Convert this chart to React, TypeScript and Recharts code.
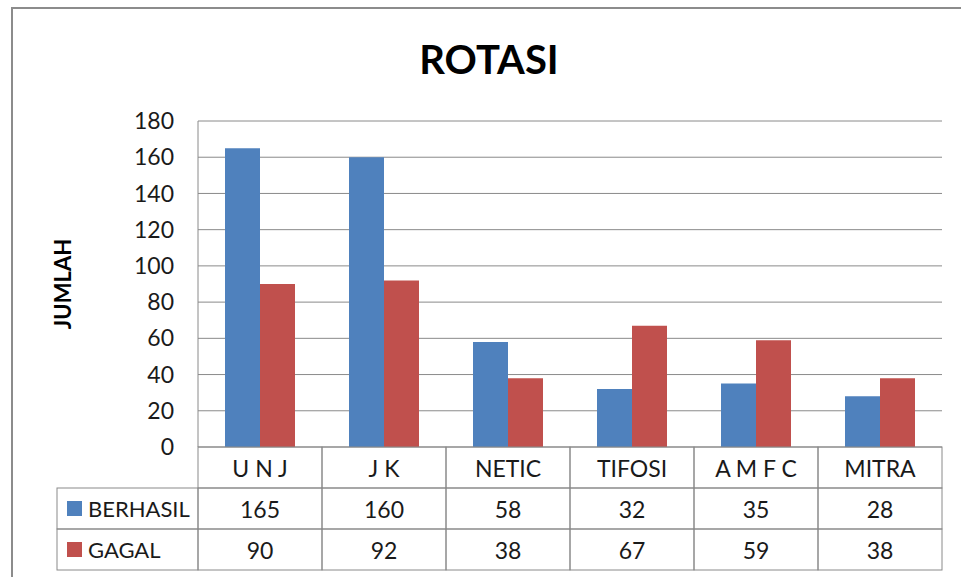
import React from 'react'
import { BarChart, Bar, XAxis, YAxis, CartesianGrid } from 'recharts'

const categories = ['U N J', 'J K', 'NETIC', 'TIFOSI', 'A M F C', 'MITRA']
const berhasil = [165, 160, 58, 32, 35, 28]
const gagal = [90, 92, 38, 67, 59, 38]
const yTicks = [0, 20, 40, 60, 80, 100, 120, 140, 160, 180]

const series = [
  { key: 'berhasil', axis: 'r1', label: 'BERHASIL', color: '#4F81BD', values: berhasil },
  { key: 'gagal', axis: 'r2', label: 'GAGAL', color: '#C0504D', values: gagal },
]

const data = categories.map((name, i) => ({
  name,
  berhasil: berhasil[i],
  gagal: gagal[i],
}))

const W = 961
const H = 577
const MARGIN = { top: 121, right: 19, left: 138, bottom: 7 }
const Y_AXIS_W = 60
const ROW_H = 41
const LABEL_W = 141
const CELL_W = (W - MARGIN.left - MARGIN.right - Y_AXIS_W) / categories.length
const GRID = '#8a8a8a'
const FONT = 'Lato, "Open Sans", sans-serif'
const TEXT = '#1a1a1a'

// one row of the data table under the plot, drawn as the ticks of an extra x axis
const TableTick = (props: any) => {
  const { x, y, payload, row } = props
  const index = props.index ?? payload.index
  const s = row === 'cat' ? null : series.find((d) => d.key === row)
  const text = s ? String(s.values[index]) : payload.value
  const left = x - CELL_W / 2
  return (
    <g>
      <rect x={left} y={y} width={CELL_W} height={ROW_H} fill="none" stroke={GRID} strokeWidth={1} />
      <text
        x={x}
        y={y + ROW_H / 2}
        textAnchor="middle"
        dominantBaseline="central"
        fontFamily={FONT}
        fontSize={23}
        fill={TEXT}
      >
        {text}
      </text>
      {s && index === 0 && (
        <g>
          <rect x={left - LABEL_W} y={y} width={LABEL_W} height={ROW_H} fill="none" stroke={GRID} strokeWidth={1} />
          <rect x={left - LABEL_W + 10} y={y + ROW_H / 2 - 7.5} width={15} height={15} fill={s.color} />
          <text
            x={left - LABEL_W + 31}
            y={y + ROW_H / 2}
            dominantBaseline="central"
            fontFamily={FONT}
            fontSize={22}
            fill={TEXT}
          >
            {s.label}
          </text>
        </g>
      )}
    </g>
  )
}

const YLabel = (props: any) => {
  const { viewBox } = props
  const cy = viewBox.y + viewBox.height / 2
  return (
    <text
      x={62}
      y={cy}
      transform={`rotate(-90, 62, ${cy})`}
      textAnchor="middle"
      dominantBaseline="central"
      fontFamily={FONT}
      fontWeight="bold"
      fontSize={22}
      fill="#000"
    >
      JUMLAH
    </text>
  )
}

export default function App() {
  return (
    <div style={{ position: 'absolute', left: 0, top: 0, width: W, height: H, background: '#fff', overflow: 'hidden' }}>
      <div
        style={{
          position: 'absolute',
          left: 11,
          top: 7,
          width: 980,
          height: 600,
          borderLeft: '2px solid #8c8c8c',
          borderTop: '2px solid #8c8c8c',
        }}
      />
      <div
        style={{
          position: 'absolute',
          left: 0,
          top: 39,
          width: 978,
          textAlign: 'center',
          fontFamily: FONT,
          fontWeight: 'bold',
          fontSize: 40,
          lineHeight: '40px',
          color: '#000',
        }}
      >
        ROTASI
      </div>
      <BarChart
        width={W}
        height={H}
        data={data}
        margin={MARGIN}
        barCategoryGap={27}
        barGap={0}
        style={{ position: 'absolute', left: 0, top: 0 }}
      >
        <CartesianGrid vertical={false} stroke={GRID} />
        <XAxis
          xAxisId="r0"
          dataKey="name"
          height={ROW_H}
          interval={0}
          tickSize={0}
          tickMargin={0}
          axisLine={false}
          tickLine={false}
          tick={(p: any) => <TableTick {...p} row="cat" />}
        />
        {series.map((s) => (
          <XAxis
            key={s.key}
            xAxisId={s.axis}
            dataKey="name"
            height={ROW_H}
            interval={0}
            tickSize={0}
            tickMargin={0}
            axisLine={false}
            tickLine={false}
            tick={(p: any) => <TableTick {...p} row={s.key} />}
          />
        ))}
        <YAxis
          width={Y_AXIS_W}
          domain={[0, 180]}
          ticks={yTicks}
          interval={0}
          axisLine={{ stroke: GRID }}
          tickLine={false}
          tickSize={6}
          tickMargin={18}
          tick={{ fontFamily: FONT, fontSize: 23, fill: TEXT }}
          label={<YLabel />}
        />
        {series.map((s) => (
          <Bar key={s.key} xAxisId="r0" dataKey={s.key} fill={s.color} isAnimationActive={false} />
        ))}
      </BarChart>
    </div>
  )
}
